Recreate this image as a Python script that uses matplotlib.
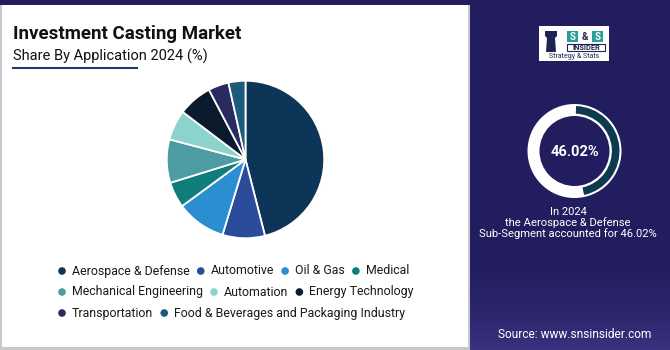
import numpy as np
import matplotlib.pyplot as plt
from matplotlib.patches import Rectangle, Circle, Polygon

plt.rcParams['font.family'] = ['Roboto', 'DejaVu Sans']

# data
categories = ['Aerospace & Defense', 'Automotive', 'Oil & Gas', 'Medical',
              'Mechanical Engineering', 'Automation', 'Energy Technology',
              'Transportation', 'Food & Beverages and Packaging Industry']
shares = [46.02, 8.7, 10.2, 5.3, 8.9, 6.2, 7.0, 4.2, 3.48]
colors = ['#0c3557', '#2b4b9b', '#2b8ed0', '#0e7d7b', '#4d9ca3',
          '#8dd3cd', '#0c1a2e', '#272b60', '#1d5a7c']
legend_rows = [[0, 1, 2, 3], [4, 5, 6], [7, 8]]
highlight_value = 46.02

W, H = 670, 350
navy = '#221d5f'

fig = plt.figure(figsize=(W / 100, H / 100), dpi=100)
fig.patch.set_facecolor(navy)

# background axes in pixel units (y measured from top)
bg = fig.add_axes([0, 0, 1, 1])
bg.set_xlim(0, W)
bg.set_ylim(H, 0)
bg.axis('off')

# faint glow at the bottom of the right panel
grad = np.linspace(0, 1, 100)[:, None] ** 2
bg.imshow(np.dstack([np.full_like(grad, 0.36), np.full_like(grad, 0.30), np.full_like(grad, 0.66), grad * 0.45]),
          extent=[469, W, H, 240], aspect='auto', zorder=0)

# white panel with grey border
bg.add_patch(Rectangle((0, 5), 470, 345, facecolor='#c8c8cc', edgecolor='none', zorder=1))
bg.add_patch(Rectangle((2, 5), 466, 342, facecolor='white', edgecolor='none', zorder=2))

# titles
bg.text(13, 39, 'Investment Casting Market', fontsize=13.5, fontweight='bold', color='#111111', zorder=3)
bg.text(13, 61, 'Share By Application 2024 (%)', fontsize=10.5, color='#111111', zorder=3)
bg.plot([13, 137], [67.5, 67.5], color='#1f3a6e', lw=1.5, zorder=3)

# pie
pax = fig.add_axes([166 / W, (H - 239) / H, 159 / W, 159 / H])
pax.pie(shares, colors=colors, startangle=90, counterclock=False,
        wedgeprops=dict(edgecolor='white', linewidth=1.3))
pax.set_xlim(-1.01, 1.01)
pax.set_ylim(-1.01, 1.01)
pax.set_aspect('equal')

# legend, flowed left to right
fig.canvas.draw()
renderer = fig.canvas.get_renderer()
row_y = [271, 292, 313]
for r, idxs in enumerate(legend_rows):
    x = 62
    for i in idxs:
        bg.add_patch(Circle((x, row_y[r]), 3.8, facecolor=colors[i], edgecolor='none', zorder=3))
        t = bg.text(x + 10, row_y[r], categories[i], fontsize=8.95, color='#1a1a1a',
                    va='center', ha='left', zorder=3)
        bb = t.get_window_extent(renderer=renderer)
        x = x + 10 + bb.width + 11

# logo
bg.add_patch(Rectangle((539, 26), 70, 35, facecolor='white', edgecolor='none', zorder=3))
bg.add_patch(Polygon([(546, 52), (547, 38), (545, 36), (545, 31), (557, 31), (557, 36),
                      (555, 38), (556, 52)], closed=True, facecolor='#1c2550', edgecolor='none', zorder=4))
bg.add_patch(Rectangle((567, 31), 11, 11, facecolor='#2a9d9c', edgecolor='none', zorder=4))
bg.add_patch(Rectangle((592, 31), 11, 11, facecolor='#2a9d9c', edgecolor='none', zorder=4))
bg.text(572.5, 36.8, 'S', fontsize=7, fontweight='bold', color='white', ha='center', va='center', zorder=5)
bg.text(597.5, 36.8, 'S', fontsize=7, fontweight='bold', color='white', ha='center', va='center', zorder=5)
bg.text(585, 36.8, '&', fontsize=7, fontweight='bold', color='#1c2550', ha='center', va='center', zorder=5)
bg.add_patch(Rectangle((567, 44), 38, 7, facecolor='white', edgecolor='#1c2550', lw=0.8, zorder=4))
bg.text(586, 47.8, 'INSIDER', fontsize=5.3, fontweight='bold', color='#1c2550', ha='center', va='center', zorder=5)
bg.text(574, 56.5, 'Strategy & Stats', fontsize=5, color='#1c2550', ha='center', va='center', zorder=5)

# highlight ring
bg.add_patch(Circle((574.5, 151), 47, facecolor='white', edgecolor='none', zorder=3))
bg.add_patch(Circle((574.5, 151), 35, facecolor=navy, edgecolor='none', zorder=4))
rax = fig.add_axes([(574.5 - 45) / W, (H - 151 - 45) / H, 90 / W, 90 / H])
rax.pie([highlight_value, 100 - highlight_value], colors=['#0d3a4f', 'none'],
        startangle=88, counterclock=False, radius=1,
        wedgeprops=dict(width=0.17, edgecolor='none'))
rax.set_xlim(-1, 1)
rax.set_ylim(-1, 1)
rax.set_aspect('equal')
rax.patch.set_alpha(0)

bg.text(574.5, 152, f'{highlight_value:.2f}%', fontsize=10.5, fontweight='bold', color='white',
        ha='center', va='center', zorder=5)

bg.text(568, 223, 'In 2024\nthe Aerospace & Defense\n'
        f'Sub-Segment accounted for {highlight_value:.2f}%',
        fontsize=8.1, color='white', ha='center', va='center', linespacing=0.98, zorder=5)

bg.text(575, 334, 'Source: www.snsinsider.com', fontsize=8.6, color='white', ha='center', va='center', zorder=5)

fig.savefig('out.png', dpi=100, facecolor=fig.get_facecolor())
